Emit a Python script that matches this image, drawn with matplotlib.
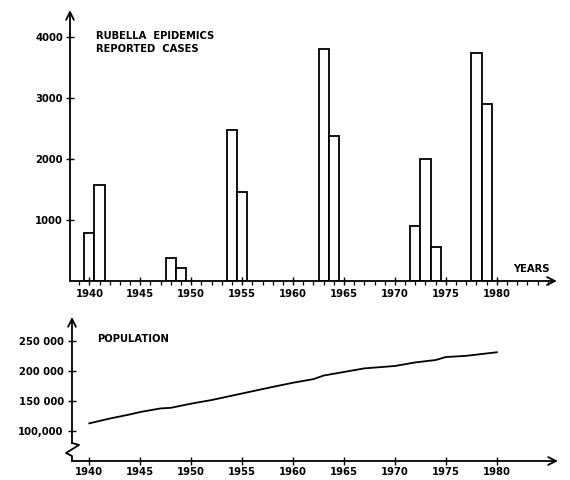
import numpy as np
import matplotlib
matplotlib.use('Agg')
import matplotlib.pyplot as plt
from matplotlib.ticker import MultipleLocator

# rubella cases per year (bars)
case_years = [1940, 1941, 1948, 1949, 1954, 1955, 1963, 1964, 1972, 1973, 1974, 1978, 1979]
case_counts = [780, 1580, 380, 220, 2480, 1460, 3800, 2380, 900, 2000, 560, 3740, 2900]

# population (thousands)
pop_years = [1940, 1942, 1944, 1945, 1947, 1948, 1950, 1952, 1955, 1958, 1960,
             1962, 1963, 1965, 1967, 1970, 1972, 1974, 1975, 1977, 1980]
pop_values = [113, 121, 128, 132, 138, 139, 146, 152, 163, 174, 181,
              187, 193, 199, 205, 209, 215, 219, 224, 226, 232]

year_ticks = [1940, 1945, 1950, 1955, 1960, 1965, 1970, 1975, 1980]
case_ticks = [1000, 2000, 3000, 4000]
pop_ticks = [100000, 150000, 200000, 250000]
pop_ticklabels = ['100,000', '150 000', '200 000', '250 000']

plt.rcParams['font.family'] = ['DejaVu Sans']
plt.rcParams['font.weight'] = 'bold'
fs = 7.2

fig = plt.figure(figsize=(5.7, 4.8), dpi=100)

def arrow_axes(ax):
    for s in ax.spines.values():
        s.set_visible(False)
    ap = dict(arrowstyle='->', lw=1.3, color='black', mutation_scale=14,
              shrinkA=0, shrinkB=0)
    ax.annotate('', xy=(1, 0), xytext=(0, 0), xycoords='axes fraction',
                arrowprops=ap, annotation_clip=False)
    return ap

# ---------- top: rubella epidemics ----------
ax1 = fig.add_axes([0.1228, 0.4146, 0.8542, 0.5644])
ax1.bar(case_years, case_counts, width=1.0, align='center',
        facecolor='white', edgecolor='black', linewidth=1.3)
ax1.set_xlim(1938.1, 1985.9)
ax1.set_ylim(0, 4440)
ap = arrow_axes(ax1)
ax1.annotate('', xy=(0, 1), xytext=(0, 0), xycoords='axes fraction',
             arrowprops=ap, annotation_clip=False)
ax1.set_xticks(year_ticks)
ax1.set_xticklabels([str(y) for y in year_ticks], fontsize=fs)
ax1.xaxis.set_minor_locator(MultipleLocator(1))
ax1.set_yticks(case_ticks)
ax1.set_yticklabels([str(v) for v in case_ticks], fontsize=fs)
ax1.tick_params(axis='x', which='major', direction='inout', length=6, width=1, pad=3)
ax1.tick_params(axis='x', which='minor', direction='out', length=3, width=0.9)
ax1.tick_params(axis='y', which='major', direction='inout', length=6, width=1, pad=2)
ax1.text(0.053, 0.905, 'RUBELLA  EPIDEMICS', transform=ax1.transAxes,
         fontsize=fs, va='center', ha='left')
ax1.text(0.053, 0.857, 'REPORTED  CASES', transform=ax1.transAxes,
         fontsize=fs, va='center', ha='left')
ax1.text(0.91, 0.045, 'YEARS', transform=ax1.transAxes,
         fontsize=fs, va='center', ha='left')

# ---------- bottom: population ----------
ax2 = fig.add_axes([0.1263, 0.0396, 0.8526, 0.3])
ax2.plot(pop_years, [v * 1000 for v in pop_values], color='black', lw=1.3)
ax2.set_xlim(1938.3, 1986.0)
ax2.set_ylim(50000, 291000)
ap2 = arrow_axes(ax2)
# y axis with break
w, h = 486.0, 144.0
ax2.annotate('', xy=(0, 1), xytext=(0, 18 / h), xycoords='axes fraction',
             arrowprops=ap2, annotation_clip=False)
zx = np.array([0, 7, -6, 0, 0]) / w
zy = np.array([18, 16, 8, 5, 0]) / h
ax2.plot(zx, zy, color='black', lw=1.3, transform=ax2.transAxes, clip_on=False)
ax2.set_xticks(year_ticks)
ax2.set_xticklabels([str(y) for y in year_ticks], fontsize=fs)
ax2.set_yticks(pop_ticks)
ax2.set_yticklabels(pop_ticklabels, fontsize=fs)
ax2.tick_params(axis='x', which='major', direction='inout', length=6, width=1, pad=1.5)
ax2.tick_params(axis='y', which='major', direction='inout', length=6, width=1, pad=3)
ax2.text(0.052, 0.85, 'POPULATION', transform=ax2.transAxes,
         fontsize=fs, va='center', ha='left')

fig.savefig('out.png', dpi=100, facecolor='white')
